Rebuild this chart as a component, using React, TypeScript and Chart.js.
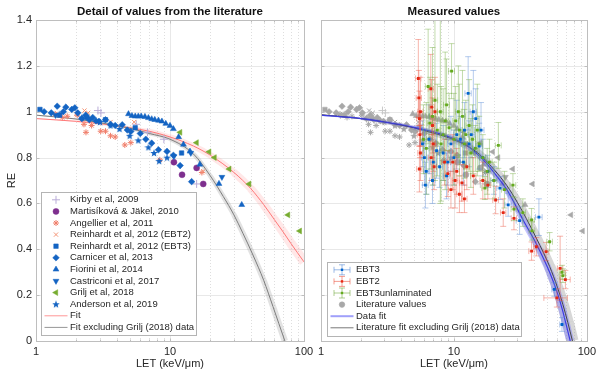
import React, { useEffect, useRef } from 'react';
import { Chart, registerables } from 'chart.js';
import { drawPoint } from 'chart.js/helpers';

Chart.register(...registerables);

const FONT = '"Liberation Sans", Arial, Helvetica, sans-serif';

// ---------- axes ----------
const xMajorTicks = [1, 10, 100];
const xTickLabels = ['1', '10', '100'];
const xMinorTicks = [2, 3, 4, 5, 6, 7, 8, 9, 20, 30, 40, 50, 60, 70, 80, 90];
const yTicks = [0, 0.2, 0.4, 0.6, 0.8, 1, 1.2, 1.4];
const yTickLabels = ['0', '0.2', '0.4', '0.6', '0.8', '1', '1.2', '1.4'];

// ---------- literature values (LET keV/um, RE) ----------
const kirbyLet = [2.9, 3.05, 5.6, 6.8, 9.0, 15.8];
const kirbyRe = [1.005, 0.995, 0.945, 0.91, 0.88, 0.685];

const martisLet = [10.7, 12.3, 15.8, 17.7];
const martisRe = [0.78, 0.725, 0.755, 0.685];

const angLet = [1.39, 1.57, 1.71, 2.03, 2.28, 2.36, 2.6, 3.04, 3.3, 3.6, 3.9, 4.6, 5.1, 8.4, 17.3];
const angRe = [0.99, 0.975, 0.98, 0.985, 0.945, 0.91, 0.94, 0.915, 0.915, 0.895, 0.89, 0.855, 0.865, 0.79, 0.735];

const rEbt2Let = [2.0, 2.3, 2.45, 3.6, 5.4, 17.7];
const rEbt2Re = [0.99, 1.005, 0.995, 0.955, 0.955, 0.74];

const rEbt3Let = [1.07, 1.5, 2.4, 3.3, 5.5, 12.2];
const rEbt3Re = [1.01, 0.985, 0.975, 0.965, 0.93, 0.82];

const carnLet = [1.15, 1.3, 1.44, 1.6, 1.67, 1.85, 1.95, 2.05, 2.2, 2.35, 2.5, 2.65, 2.8, 2.95, 3.3, 3.6, 3.9, 4.4, 4.8, 5.1, 6.0, 6.6, 7.3, 8.2, 9.5, 10.6, 11.9, 14.5];
const carnRe = [1.0, 0.995, 1.024, 1.0, 1.02, 1.01, 1.017, 0.995, 0.97, 0.985, 0.965, 0.975, 0.96, 0.958, 0.965, 0.945, 0.94, 0.943, 0.92, 0.914, 0.905, 0.88, 0.863, 0.834, 0.827, 0.81, 0.765, 0.695];

const fioLet = [4.9, 5.2, 5.5, 5.8, 6.1, 6.5, 6.9, 7.3, 7.7, 8.2, 8.7, 9.3, 10.0, 10.6, 11.6, 12.6, 14.1, 16.7, 23.2, 34.3];
const fioRe = [0.99, 0.982, 0.98, 0.98, 0.98, 0.978, 0.973, 0.968, 0.965, 0.962, 0.958, 0.948, 0.939, 0.925, 0.89, 0.857, 0.827, 0.77, 0.686, 0.594];

const castLet = [1.4, 10.7, 14.3, 24.4];
const castRe = [0.985, 0.805, 0.82, 0.715];

const griljLet = [11.9, 15.8, 19.6, 21.5, 27.7, 39, 76, 93];
const griljRe = [0.91, 0.865, 0.825, 0.8, 0.75, 0.685, 0.55, 0.48];

const andLet = [1.5, 2.2, 3.0, 3.6, 4.2, 5.0, 5.8, 6.9, 7.6, 8.3, 9.5];
const andRe = [0.99, 0.975, 0.955, 0.94, 0.925, 0.895, 0.875, 0.845, 0.82, 0.785, 0.8];

// ---------- fits ----------
const redFitLet = [1, 2, 3, 5, 7, 10, 15, 20, 30, 40, 50, 60, 70, 80, 100];
const redFitRe = [0.97, 0.958, 0.948, 0.93, 0.915, 0.89, 0.85, 0.81, 0.735, 0.665, 0.595, 0.53, 0.475, 0.425, 0.345];

const exclFitLet = [1, 2, 3, 5, 7, 10, 15, 20, 25, 30, 35, 41.6, 50, 58.7, 65, 72];
const exclFitRe = [0.985, 0.968, 0.952, 0.928, 0.905, 0.88, 0.815, 0.72, 0.63, 0.55, 0.47, 0.375, 0.265, 0.15, 0.075, 0.0];

const dataFitLet = [1, 2, 3, 5, 7, 10, 12.4, 15, 17.6, 20, 25, 28, 33, 42, 52.5, 60, 65.6, 70, 75];
const dataFitRe = [0.985, 0.97, 0.955, 0.932, 0.912, 0.882, 0.855, 0.815, 0.775, 0.735, 0.66, 0.61, 0.53, 0.42, 0.3, 0.21, 0.135, 0.07, 0.0];

const litFitLet = [1, 2, 3, 5, 7, 10, 15, 20, 25, 30, 35, 42, 52.5, 60, 66, 72, 78];
const litFitRe = [0.987, 0.97, 0.955, 0.93, 0.907, 0.878, 0.822, 0.748, 0.678, 0.605, 0.535, 0.445, 0.325, 0.235, 0.16, 0.08, 0.0];

// ---------- measured values ----------
const ebt3Let = [5.8, 6.0, 6.2, 6.5, 6.9, 7.4, 7.8, 8.3, 8.8, 9.5, 10.5, 11.2, 12.0, 12.8, 13.5, 14.6, 15.5, 16.5, 18.0, 22.2, 25.6, 31.2, 43.6, 57, 65, 6.1, 7.0, 9.0, 10.0, 11.8, 13.0, 14.0, 16.0, 20.0];
const ebt3Re = [0.86, 0.8, 0.74, 0.88, 0.7, 0.83, 0.76, 0.82, 0.72, 0.86, 0.9, 0.88, 0.92, 1.08, 0.9, 0.97, 0.85, 0.8, 0.74, 0.667, 0.594, 0.525, 0.54, 0.225, 0.072, 0.68, 0.78, 0.78, 0.8, 0.78, 0.86, 1.0, 0.92, 0.7];
const ebt3ReErr = [0.1, 0.12, 0.1, 0.15, 0.1, 0.12, 0.09, 0.12, 0.1, 0.12, 0.15, 0.1, 0.12, 0.16, 0.1, 0.13, 0.1, 0.08, 0.07, 0.05, 0.05, 0.06, 0.08, 0.03, 0.03, 0.1, 0.1, 0.1, 0.12, 0.1, 0.1, 0.18, 0.12, 0.06];
const ebt3LetErr = [0.3, 0.3, 0.3, 0.35, 0.35, 0.4, 0.4, 0.45, 0.5, 0.5, 0.6, 0.6, 0.7, 0.7, 0.8, 0.8, 0.9, 0.9, 1.0, 1.2, 1.4, 1.8, 2.5, 2.5, 2.5, 0.3, 0.35, 0.5, 0.55, 0.65, 0.7, 0.75, 0.85, 1.1];

const ebt2Let = [5.4, 5.45, 5.5, 5.55, 5.6, 6.7, 6.8, 6.9, 7.0, 9.0, 9.8, 10.2, 11.0, 12.5, 16.5, 20.6, 23.5, 28.3, 38.4, 41.7, 49.4, 63, 59.5, 69, 5.5, 5.6, 6.75, 7.1, 7.2, 8.5, 9.5, 10.5, 11.5, 12.0, 14.0, 18.0];
const ebt2Re = [1.145, 1.06, 0.97, 0.9, 0.82, 1.1, 1.02, 0.94, 0.86, 0.73, 0.78, 0.7, 0.64, 0.76, 0.7, 0.615, 0.56, 0.535, 0.392, 0.411, 0.39, 0.317, 0.188, 0.268, 0.75, 1.0, 0.8, 0.76, 1.0, 0.78, 0.66, 0.74, 0.69, 0.62, 0.72, 0.68];
const ebt2ReErr = [0.17, 0.12, 0.12, 0.1, 0.12, 0.15, 0.12, 0.12, 0.12, 0.1, 0.12, 0.12, 0.08, 0.1, 0.08, 0.06, 0.06, 0.05, 0.04, 0.04, 0.04, 0.14, 0.04, 0.04, 0.1, 0.15, 0.1, 0.1, 0.15, 0.1, 0.08, 0.1, 0.08, 0.06, 0.08, 0.06];
const ebt2LetErr = [0.25, 0.25, 0.25, 0.25, 0.25, 0.3, 0.3, 0.3, 0.3, 0.4, 0.4, 0.5, 0.5, 0.6, 0.8, 1.0, 1.1, 1.3, 1.8, 2.0, 2.4, 3.0, 12, 6, 0.25, 0.25, 0.3, 0.3, 0.3, 0.4, 0.4, 0.5, 0.5, 0.55, 0.65, 0.9];

const unlLet = [5.9, 6.4, 6.6, 7.2, 7.5, 7.9, 8.3, 8.8, 9.2, 9.6, 10.3, 11.0, 11.6, 12.3, 13.0, 13.8, 14.5, 15.5, 16.5, 17.1, 18.5, 21.6, 27.8, 28.3, 38.4, 38.7, 52.5, 65, 66, 6.2, 6.9, 8.0, 8.6, 10.0, 10.8, 12.0, 13.4, 15.0, 17.8, 20.0, 24.0, 33.0];
const unlRe = [0.88, 1.11, 0.95, 1.05, 0.92, 1.0, 0.9, 1.03, 0.93, 1.177, 0.96, 0.92, 0.98, 0.9, 0.94, 0.88, 0.84, 0.86, 0.8, 0.667, 0.78, 0.853, 0.68, 0.575, 0.528, 0.48, 0.433, 0.3, 0.285, 0.84, 0.98, 0.86, 0.96, 0.88, 1.0, 0.86, 0.82, 0.92, 0.74, 0.7, 0.66, 0.56];
const unlReErr = [0.15, 0.25, 0.2, 0.35, 0.2, 0.4, 0.2, 0.2, 0.15, 0.12, 0.15, 0.2, 0.2, 0.15, 0.2, 0.15, 0.1, 0.12, 0.1, 0.05, 0.1, 0.1, 0.05, 0.05, 0.05, 0.04, 0.04, 0.03, 0.03, 0.2, 0.3, 0.25, 0.3, 0.2, 0.2, 0.15, 0.15, 0.2, 0.1, 0.08, 0.08, 0.06];
const unlLetErr = [0.3, 0.3, 0.3, 0.35, 0.35, 0.4, 0.4, 0.45, 0.45, 0.5, 0.5, 0.55, 0.6, 0.6, 0.65, 0.7, 0.7, 0.8, 0.8, 0.9, 0.9, 1.1, 1.4, 1.4, 1.9, 1.9, 2.6, 3.2, 3.3, 0.3, 0.35, 0.4, 0.45, 0.5, 0.55, 0.6, 0.65, 0.75, 0.9, 1.0, 1.2, 1.6];

// ---------- styles ----------
const BLUE = 'rgb(20,100,195)';
const GREEN = 'rgb(119,172,48)';
const PURPLE = 'rgb(126,47,142)';
const SALMON = 'rgb(240,125,105)';
const LAVENDER = 'rgb(185,172,215)';
const GRAY = 'rgb(168,168,168)';

const pts = (xs: number[], ys: number[]) => xs.map((x, i) => ({ x, y: ys[i] }));

function makeStar(color: string) {
  const c = document.createElement('canvas');
  c.width = 8; c.height = 8;
  const g = c.getContext('2d')!;
  g.fillStyle = color;
  g.beginPath();
  const cx = 4, cy = 4.3, R = 4, r = 1.7;
  for (let i = 0; i < 10; i++) {
    const a = -Math.PI / 2 + (i * Math.PI) / 5;
    const rad = i % 2 ? r : R;
    g.lineTo(cx + rad * Math.cos(a), cy + rad * Math.sin(a));
  }
  g.closePath();
  g.fill();
  return c;
}

type Lit = { label: string; x: number[]; y: number[]; style: any; color: string; r: number; rot: number; line: boolean };

function litSeries(star: any): Lit[] {
  return [
    { label: 'Kirby et al, 2009', x: kirbyLet, y: kirbyRe, style: 'cross', color: LAVENDER, r: 4, rot: 0, line: true },
    { label: 'Martisíková & Jäkel, 2010', x: martisLet, y: martisRe, style: 'circle', color: PURPLE, r: 3, rot: 0, line: false },
    { label: 'Angellier et al, 2011', x: angLet, y: angRe, style: 'star', color: SALMON, r: 3, rot: 0, line: true },
    { label: 'Reinhardt et al, 2012 (EBT2)', x: rEbt2Let, y: rEbt2Re, style: 'crossRot', color: 'rgb(245,150,120)', r: 3, rot: 0, line: true },
    { label: 'Reinhardt et al, 2012 (EBT3)', x: rEbt3Let, y: rEbt3Re, style: 'rect', color: BLUE, r: 3.2, rot: 0, line: false },
    { label: 'Carnicer et al, 2013', x: carnLet, y: carnRe, style: 'rectRot', color: BLUE, r: 3.3, rot: 0, line: false },
    { label: 'Fiorini et al, 2014', x: fioLet, y: fioRe, style: 'triangle', color: BLUE, r: 3.4, rot: 0, line: false },
    { label: 'Castriconi et al, 2017', x: castLet, y: castRe, style: 'triangle', color: BLUE, r: 3.4, rot: 180, line: false },
    { label: 'Grilj et al, 2018', x: griljLet, y: griljRe, style: 'triangle', color: GREEN, r: 3.4, rot: -90, line: false },
    { label: 'Anderson et al, 2019', x: andLet, y: andRe, style: star, color: BLUE, r: 4, rot: 0, line: false },
  ];
}

function scatterDs(s: Lit, color: string, style: any, order: number) {
  return {
    label: s.label,
    data: pts(s.x, s.y),
    pointStyle: style,
    pointRadius: s.r,
    pointRotation: s.rot,
    pointBackgroundColor: color,
    pointBorderColor: color,
    pointBorderWidth: s.line ? 1 : 0.5,
    showLine: false,
    order,
  };
}

function lineDs(label: string, xs: number[], ys: number[], color: string, width: any, order: number) {
  const ds: any = {
    label,
    data: pts(xs, ys),
    showLine: true,
    pointRadius: 0,
    borderColor: color,
    backgroundColor: color,
    fill: false,
    cubicInterpolationMode: 'monotone',
    clip: 0,
    order,
  };
  if (typeof width === 'function') {
    ds.borderWidth = 2;
    ds.segment = { borderWidth: width };
  } else ds.borderWidth = width;
  return ds;
}

function gridPlugin() {
  return {
    id: 'gridbox',
    beforeDatasetsDraw(chart: any) {
      const { ctx, chartArea: a, scales } = chart;
      const x = scales.x, y = scales.y;
      ctx.save();
      ctx.lineWidth = 1;
      ctx.strokeStyle = 'rgb(222,222,222)';
      ctx.setLineDash([1, 2]);
      for (const v of xMinorTicks) {
        const px = Math.round(x.getPixelForValue(v)) + 0.5;
        ctx.beginPath(); ctx.moveTo(px, a.top); ctx.lineTo(px, a.bottom); ctx.stroke();
      }
      ctx.setLineDash([]);
      ctx.strokeStyle = 'rgb(232,232,232)';
      for (const v of xMajorTicks) {
        const px = Math.round(x.getPixelForValue(v)) + 0.5;
        ctx.beginPath(); ctx.moveTo(px, a.top); ctx.lineTo(px, a.bottom); ctx.stroke();
      }
      for (const v of yTicks) {
        const py = Math.round(y.getPixelForValue(v)) + 0.5;
        ctx.beginPath(); ctx.moveTo(a.left, py); ctx.lineTo(a.right, py); ctx.stroke();
      }
      ctx.restore();
    },
    afterDatasetsDraw(chart: any) {
      const { ctx, chartArea: a, scales } = chart;
      const x = scales.x, y = scales.y;
      ctx.save();
      ctx.strokeStyle = 'rgb(190,190,190)';
      ctx.lineWidth = 1;
      const L = Math.round(a.left) + 0.5, R = Math.round(a.right) + 0.5;
      const T = Math.round(a.top) + 0.5, B = Math.round(a.bottom) + 0.5;
      ctx.strokeRect(L, T, R - L, B - T);
      ctx.beginPath();
      for (const v of [...xMajorTicks, ...xMinorTicks]) {
        const px = Math.round(x.getPixelForValue(v)) + 0.5;
        const len = xMajorTicks.includes(v) ? 3 : 2;
        ctx.moveTo(px, B); ctx.lineTo(px, B - len);
        ctx.moveTo(px, T); ctx.lineTo(px, T + len);
      }
      for (const v of yTicks) {
        const py = Math.round(y.getPixelForValue(v)) + 0.5;
        ctx.moveTo(L, py); ctx.lineTo(L + 3, py);
        ctx.moveTo(R, py); ctx.lineTo(R - 3, py);
      }
      ctx.stroke();
      ctx.restore();
    },
  };
}

function titlePlugin(text: string) {
  return {
    id: 'paneltitle',
    afterDraw(chart: any) {
      const { ctx, chartArea: a } = chart;
      ctx.save();
      ctx.font = `bold 11.5px ${FONT}`;
      ctx.fillStyle = '#111';
      ctx.textAlign = 'center';
      ctx.textBaseline = 'middle';
      ctx.fillText(text, (a.left + a.right) / 2, 12);
      ctx.restore();
    },
  };
}

type LegItem = { label: string; kind: 'pt' | 'line' | 'err'; color: string; style?: any; r?: number; rot?: number; lw?: number; light?: string; line?: boolean };

function legendPlugin(items: LegItem[], width: number, offX: number) {
  return {
    id: 'customlegend',
    afterDraw(chart: any) {
      const { ctx, chartArea: a } = chart;
      const rowH = 11.6;
      const h = items.length * rowH + 4;
      const x0 = Math.round(a.left + offX) + 0.5;
      const y0 = Math.round(a.bottom - 5.8 - h) + 0.5;
      ctx.save();
      ctx.fillStyle = '#fff';
      ctx.fillRect(x0, y0, width, h);
      ctx.strokeStyle = 'rgb(180,180,180)';
      ctx.lineWidth = 1;
      ctx.strokeRect(x0, y0, width, Math.round(h));
      items.forEach((it, i) => {
        const yy = y0 + 7.3 + i * rowH;
        const mx = x0 + 14.5;
        if (it.kind === 'pt') {
          ctx.fillStyle = it.color;
          ctx.strokeStyle = it.color;
          ctx.lineWidth = it.line ? 1 : 0.5;
          drawPoint(ctx, { pointStyle: it.style, rotation: it.rot || 0, radius: it.r || 3, borderWidth: it.line ? 1 : 0.5 } as any, mx, yy);
        } else if (it.kind === 'line') {
          ctx.strokeStyle = it.color;
          ctx.lineWidth = it.lw || 1;
          ctx.beginPath(); ctx.moveTo(x0 + 3, yy); ctx.lineTo(x0 + 26, yy); ctx.stroke();
        } else {
          ctx.strokeStyle = it.light || it.color;
          ctx.lineWidth = 1;
          ctx.beginPath();
          ctx.moveTo(mx - 8, yy); ctx.lineTo(mx + 8, yy);
          ctx.moveTo(mx - 8, yy - 3); ctx.lineTo(mx - 8, yy + 3);
          ctx.moveTo(mx + 8, yy - 3); ctx.lineTo(mx + 8, yy + 3);
          ctx.moveTo(mx, yy - 5); ctx.lineTo(mx, yy + 5);
          ctx.moveTo(mx - 3, yy - 5); ctx.lineTo(mx + 3, yy - 5);
          ctx.moveTo(mx - 3, yy + 5); ctx.lineTo(mx + 3, yy + 5);
          ctx.stroke();
          ctx.fillStyle = it.color;
          ctx.fillRect(mx - 1.2, yy - 1.2, 2.4, 2.4);
        }
        ctx.fillStyle = '#262626';
        ctx.font = `9.5px ${FONT}`;
        ctx.textAlign = 'left';
        ctx.textBaseline = 'middle';
        ctx.fillText(it.label, x0 + 28.5, yy);
      });
      ctx.restore();
    },
  };
}

type ErrSeries = { x: number[]; y: number[]; ex: number[]; ey: number[]; color: string };

function errorBarPlugin(series: ErrSeries[], atLabel: string) {
  return {
    id: 'errbars',
    beforeDatasetDraw(chart: any, args: any) {
      if (chart.data.datasets[args.index].label !== atLabel) return;
      const { ctx, chartArea: a, scales } = chart;
      const xs = scales.x, ys = scales.y;
      ctx.save();
      ctx.beginPath();
      ctx.rect(a.left, a.top, a.right - a.left, a.bottom - a.top);
      ctx.clip();
      ctx.lineWidth = 1;
      for (const s of series) {
        ctx.strokeStyle = s.color;
        ctx.beginPath();
        s.x.forEach((L, i) => {
          const R = s.y[i];
          const px = xs.getPixelForValue(L), py = ys.getPixelForValue(R);
          const pt = ys.getPixelForValue(R + s.ey[i]), pb = ys.getPixelForValue(R - s.ey[i]);
          const pl = xs.getPixelForValue(L - s.ex[i]), pr = xs.getPixelForValue(L + s.ex[i]);
          ctx.moveTo(px, pt); ctx.lineTo(px, pb);
          ctx.moveTo(px - 3, pt); ctx.lineTo(px + 3, pt);
          ctx.moveTo(px - 3, pb); ctx.lineTo(px + 3, pb);
          ctx.moveTo(pl, py); ctx.lineTo(pr, py);
          ctx.moveTo(pl, py - 3); ctx.lineTo(pl, py + 3);
          ctx.moveTo(pr, py - 3); ctx.lineTo(pr, py + 3);
        });
        ctx.stroke();
      }
      ctx.restore();
    },
  };
}

function scalesCfg(showY: boolean, yWidth: number) {
  return {
    x: {
      type: 'logarithmic',
      min: 1,
      max: 100,
      afterBuildTicks: (s: any) => { s.ticks = xMajorTicks.map((v) => ({ value: v })); },
      afterFit: (s: any) => { s.height = 46; },
      grid: { display: false, drawTicks: false },
      border: { display: false },
      ticks: {
        padding: 4,
        color: '#262626',
        font: { size: 11, family: FONT },
        autoSkip: false,
        maxRotation: 0,
        callback: (_v: any, i: number) => xTickLabels[i],
      },
      title: { display: true, text: 'LET (keV/μm)', color: '#262626', font: { size: 11, family: FONT }, padding: { top: 0, bottom: 16 } },
    },
    y: {
      type: 'linear',
      min: 0,
      max: 1.4,
      afterBuildTicks: (s: any) => { s.ticks = yTicks.map((v) => ({ value: v })); },
      afterFit: (s: any) => { s.width = yWidth; },
      grid: { display: false, drawTicks: false },
      border: { display: false },
      ticks: {
        display: showY,
        padding: 4,
        color: '#262626',
        font: { size: 11, family: FONT },
        callback: (_v: any, i: number) => yTickLabels[i],
      },
      title: { display: showY, text: 'RE', color: '#262626', font: { size: 11, family: FONT }, padding: { top: 5, bottom: 0 } },
    },
  };
}

export default function App() {
  const leftRef = useRef<HTMLCanvasElement>(null);
  const rightRef = useRef<HTMLCanvasElement>(null);

  useEffect(() => {
    Chart.defaults.font.family = FONT;
    const starBlue = makeStar(BLUE);
    const starGray = makeStar(GRAY);

    // ----- left panel -----
    const lit = litSeries(starBlue);
    const leftDatasets: any[] = lit.map((s, i) => scatterDs(s, s.color, s.style, 10 - i));
    leftDatasets.push(lineDs('Fit band', redFitLet, redFitRe, 'rgba(255,150,150,0.22)', (c: any) => 1 + 4.5 * Math.log10(c.p0.parsed.x + 0.001), 100));
    leftDatasets.push(lineDs('Excl band', exclFitLet, exclFitRe, 'rgba(160,160,160,0.3)', (c: any) => 1 + 3 * Math.log10(c.p0.parsed.x + 0.001), 99));
    leftDatasets.push(lineDs('Fit', redFitLet, redFitRe, 'rgb(255,120,120)', 1, 50));
    leftDatasets.push(lineDs('Fit excluding Grilj (2018) data', exclFitLet, exclFitRe, 'rgb(125,125,125)', 1, 49));

    const leftLegend: LegItem[] = [
      ...lit.map((s) => ({ label: s.label, kind: 'pt' as const, color: s.color, style: s.style, r: s.r, rot: s.rot, line: s.line })),
      { label: 'Fit', kind: 'line', color: 'rgb(255,150,150)', lw: 1 },
      { label: 'Fit excluding Grilj (2018) data', kind: 'line', color: 'rgb(150,150,150)', lw: 1 },
    ];

    const left = new Chart(leftRef.current!, {
      type: 'scatter',
      data: { datasets: leftDatasets },
      options: {
        responsive: false,
        animation: false,
        devicePixelRatio: 1,
        events: [],
        layout: { padding: { left: 0, right: 26, top: 20, bottom: 0 } },
        plugins: { legend: { display: false }, tooltip: { enabled: false }, title: { display: false } },
        scales: scalesCfg(true, 36) as any,
      },
      plugins: [gridPlugin(), titlePlugin('Detail of values from the literature'), legendPlugin(leftLegend, 155, 5.3)],
    } as any);

    // ----- right panel -----
    const litG = litSeries(starGray);
    const rightDatasets: any[] = litG.map((s) =>
      scatterDs(s, s.label.startsWith('Kirby') ? 'rgb(200,200,200)' : GRAY, s.style, 95)
    );
    rightDatasets.push(lineDs('Lit band', litFitLet, litFitRe, 'rgba(140,140,140,0.35)', (c: any) => 1 + 6 * Math.log10(c.p0.parsed.x + 0.001), 94));
    rightDatasets.push(lineDs('Data band', dataFitLet, dataFitRe, 'rgba(110,110,255,0.4)', (c: any) => 1.5 + 3.5 * Math.log10(c.p0.parsed.x + 0.001), 93));
    rightDatasets.push(lineDs('Literature fit excluding Grilj (2018) data', litFitLet, litFitRe, 'rgb(70,70,70)', 1, 92));
    rightDatasets.push(lineDs('Data fit', dataFitLet, dataFitRe, 'rgb(60,60,225)', 1.2, 91));
    const meas = (label: string, xs: number[], ys: number[], color: string, order: number) => ({
      label,
      data: pts(xs, ys),
      pointStyle: 'rect',
      pointRadius: 2,
      pointBackgroundColor: color,
      pointBorderColor: color,
      pointBorderWidth: 0,
      showLine: false,
      order,
    });
    rightDatasets.push(meas('EBT3', ebt3Let, ebt3Re, 'rgb(0,100,205)', 3));
    rightDatasets.push(meas('EBT2', ebt2Let, ebt2Re, 'rgb(230,40,20)', 2));
    rightDatasets.push(meas('EBT3unlaminated', unlLet, unlRe, 'rgb(100,170,30)', 1));

    const errSeries: ErrSeries[] = [
      { x: ebt3Let, y: ebt3Re, ex: ebt3LetErr, ey: ebt3ReErr, color: 'rgba(90,140,215,0.45)' },
      { x: ebt2Let, y: ebt2Re, ex: ebt2LetErr, ey: ebt2ReErr, color: 'rgba(235,90,70,0.45)' },
      { x: unlLet, y: unlRe, ex: unlLetErr, ey: unlReErr, color: 'rgba(120,175,70,0.45)' },
    ];

    const rightLegend: LegItem[] = [
      { label: 'EBT3', kind: 'err', color: 'rgb(0,100,205)', light: 'rgba(90,140,215,0.6)' },
      { label: 'EBT2', kind: 'err', color: 'rgb(230,40,20)', light: 'rgba(235,90,70,0.6)' },
      { label: 'EBT3unlaminated', kind: 'err', color: 'rgb(100,170,30)', light: 'rgba(120,175,70,0.6)' },
      { label: 'Literature values', kind: 'pt', color: GRAY, style: 'circle', r: 2.8 },
      { label: 'Data fit', kind: 'line', color: 'rgb(160,160,250)', lw: 2 },
      { label: 'Literature fit excluding Grilj (2018) data', kind: 'line', color: 'rgb(120,120,120)', lw: 1 },
    ];

    const right = new Chart(rightRef.current!, {
      type: 'scatter',
      data: { datasets: rightDatasets },
      options: {
        responsive: false,
        animation: false,
        devicePixelRatio: 1,
        events: [],
        layout: { padding: { left: 0, right: 13, top: 20, bottom: 0 } },
        plugins: { legend: { display: false }, tooltip: { enabled: false }, title: { display: false } },
        scales: scalesCfg(false, 21) as any,
      },
      plugins: [gridPlugin(), titlePlugin('Measured values'), errorBarPlugin(errSeries, 'EBT3'), legendPlugin(rightLegend, 194, 6)],
    } as any);

    return () => {
      left.destroy();
      right.destroy();
    };
  }, []);

  return (
    <div style={{ position: 'absolute', left: 0, top: 0, width: 600, height: 387, background: '#fff', overflow: 'hidden' }}>
      <canvas ref={leftRef} width={330} height={387} style={{ position: 'absolute', left: 0, top: 0, width: 330, height: 387 }} />
      <canvas ref={rightRef} width={300} height={387} style={{ position: 'absolute', left: 300, top: 0, width: 300, height: 387 }} />
    </div>
  );
}
